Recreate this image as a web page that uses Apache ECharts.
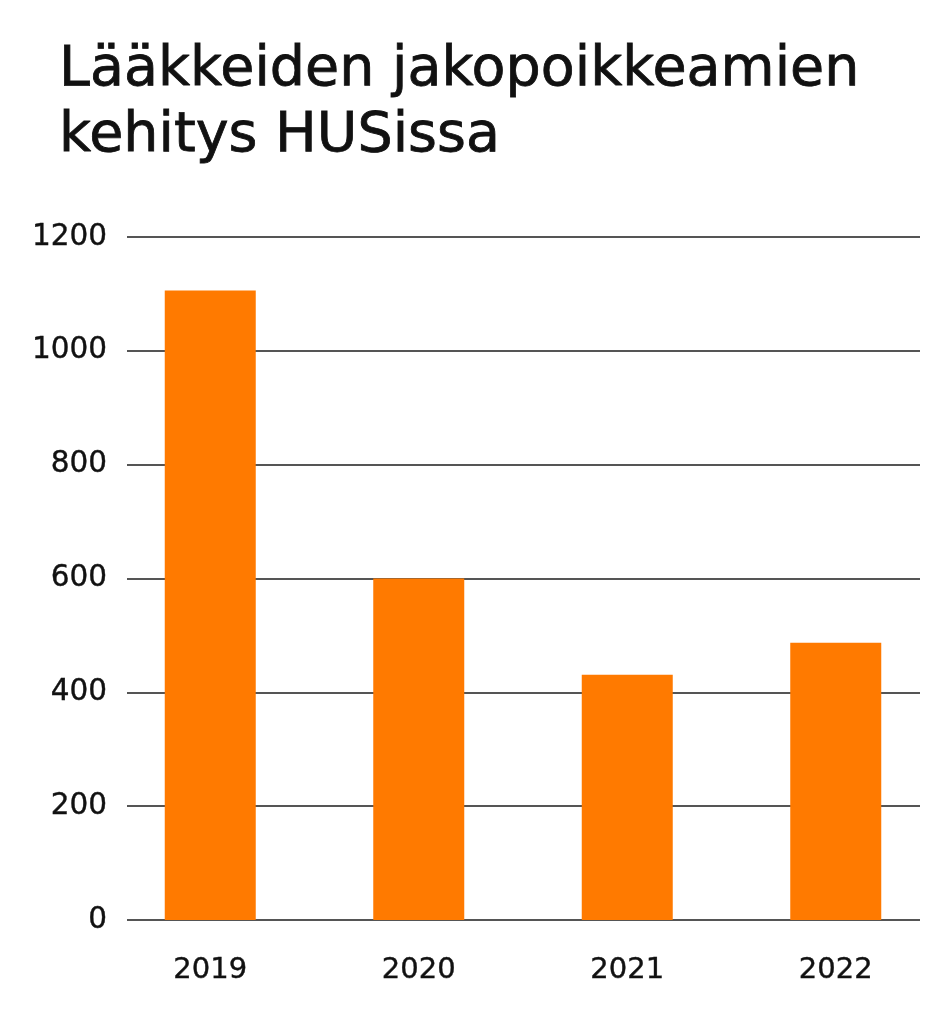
<!DOCTYPE html>
<html>
<head>
<meta charset="utf-8">
<script src="https://cdn.jsdelivr.net/npm/echarts@6/dist/echarts.min.js"></script>
<style>
html,body{margin:0;padding:0;background:#fff;}
#c{width:949px;height:1024px;}
</style>
</head>
<body>
<div id="c"></div>
<script>
const titleText = "Lääkkeiden jakopoikkeamien\nkehitys HUSissa";
const categories = ["2019", "2020", "2021", "2022"];
const values = [1106, 600, 431, 487];
const yMin = 0, yMax = 1200, yStep = 200;

const font = "DejaVu Sans";
const ink = '#111';
const chart = echarts.init(document.getElementById('c'), null, {renderer: 'canvas'});
chart.setOption({
  backgroundColor: '#ffffff',
  animation: false,
  title: {
    text: titleText,
    left: 54, top: 33,
    textStyle: {fontFamily: font, fontSize: 55.5, fontWeight: 'normal', color: ink, lineHeight: 66,
                textBorderColor: ink, textBorderWidth: 0.8}
  },
  grid: [
    {left: 127, right: 29, top: 237, bottom: 104},
    {left: 106, right: 9, top: 237, bottom: 104}
  ],
  xAxis: [
    {type: 'category', gridIndex: 0, data: categories, show: false},
    {type: 'category', gridIndex: 1, data: categories,
     axisLine: {show: false}, axisTick: {show: false},
     axisLabel: {fontFamily: font, fontSize: 29, color: ink, margin: 36,
                 textBorderColor: ink, textBorderWidth: 0.4}}
  ],
  yAxis: [
    {type: 'value', gridIndex: 0, min: yMin, max: yMax, interval: yStep,
     axisLine: {show: false}, axisTick: {show: false},
     axisLabel: {fontFamily: font, fontSize: 29.5, color: ink, margin: 20,
                 textBorderColor: ink, textBorderWidth: 0.4,
                 formatter: function (v) { return String(v); }},
     splitLine: {lineStyle: {color: '#555', width: 2}}},
    {type: 'value', gridIndex: 1, min: yMin, max: yMax, interval: yStep, show: false,
     splitLine: {show: false}}
  ],
  series: [{
    type: 'bar', xAxisIndex: 1, yAxisIndex: 1,
    data: values, barWidth: 91,
    itemStyle: {color: '#FF7A00'}
  }]
});
</script>
</body>
</html>
